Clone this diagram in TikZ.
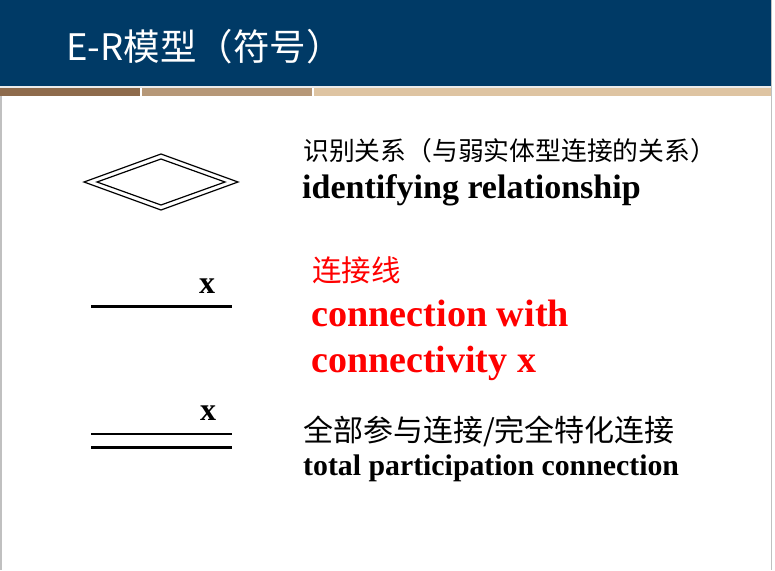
\documentclass[tikz,border=0pt]{standalone}
\usepackage{fontspec}
\setmainfont{Liberation Serif}
\newfontfamily\cjk{Noto Sans CJK SC}
\definecolor{hdrblue}{RGB}{0,58,102}
\definecolor{barA}{RGB}{142,107,76}
\definecolor{barB}{RGB}{182,152,120}
\definecolor{barC}{RGB}{222,196,162}
\definecolor{framegray}{RGB}{192,192,192}
\newcommand{\fsz}[1]{\fontsize{#1}{#1}\selectfont}
\tikzset{slide/.style={x=1pt,y=-1pt},
  entxt/.style={anchor=base west,inner sep=0pt},
  cntxt/.style={anchor=base west,inner sep=0pt},
  connline/.style={line width=2.1pt},
  cardx/.style={anchor=base west,inner sep=0pt,font=\bfseries\fsz{32}}}

\begin{document}
\begin{tikzpicture}[slide]
    \useasboundingbox (0,0) rectangle (775,570);
    \fill[hdrblue] (0,0) rectangle (772,86); % header
    \fill[black!8] (0,86) rectangle (772,88);
    \fill[barA] (0,88) rectangle (140,96); % bars
    \fill[barB] (142,88) rectangle (312,96);
    \fill[barC] (314,88) rectangle (772,96);
    \draw[framegray,line width=1.5pt] (0.75,96) -- (0.75,570);
    \draw[framegray,line width=1.5pt] (771.25,0) -- (771.25,570);
    \node[anchor=base west,inner sep=0pt,text=white,font=\cjk\fsz{36.5}] (title) at (66,60) {E-R模型（符号）};
    % double diamond
    \coordinate (idrel) at (161,182);
    \draw[line width=1.2pt] (idrel) ++(-77,0) -- ++(77,-28) -- ++(77,28) -- ++(-77,28) -- cycle;
    \draw[line width=1.2pt] (idrel) ++(-64,0) -- ++(64,-23) -- ++(64,23) -- ++(-64,23) -- cycle;
    \node[cntxt,font=\cjk\fsz{25.8}] (idcn) at (303,160) {识别关系（与弱实体型连接的关系）};
    \node[entxt,font=\bfseries\fsz{34}] (iden) at (302,198) {identifying relationship};
    % single line
    \coordinate (cla) at (91,306.5);
    \coordinate (clb) at (232,306.5);
    \draw[connline] (cla) -- (clb);
    \node[cardx] (xa) at (199,293) {x};
    \node[cntxt,red,font=\cjk\fsz{29.5}] (cncn) at (312,281) {连接线};
    \node[entxt,red,font=\bfseries\fsz{38.2}] (cnena) at (311,326) {connection with};
    \node[entxt,red,font=\bfseries\fsz{38}] (cnenb) at (311,372) {connectivity x};
    % double line
    \coordinate (tla) at (91,434);
    \coordinate (tlb) at (232,434);
    \coordinate (tlc) at (91,447.5);
    \coordinate (tld) at (232,447.5);
    \draw[connline] (tla) -- (tlb);
    \draw[connline] (tlc) -- (tld);
    \node[cardx] (xb) at (200,420) {x};
    \node[cntxt,font=\cjk\fsz{30}] (tpcn) at (303,441) {全部参与连接/完全特化连接};
    \node[entxt,font=\bfseries\fsz{29.8}] (tpen) at (303,475) {total participation connection};
\end{tikzpicture}
\end{document}
